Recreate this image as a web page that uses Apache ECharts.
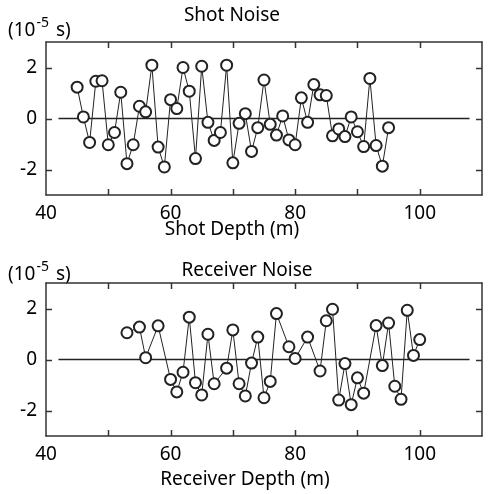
<!DOCTYPE html>
<html lang="en">
<head>
    <meta charset="UTF-8">
    <title>Shot / Receiver Noise</title>
    <script src="https://cdn.jsdelivr.net/npm/echarts@6.0.0/dist/echarts.min.js"></script>
    <style>
        html, body { margin: 0; padding: 0; background: #fff; }
        #chart { width: 490px; height: 494px; }
    </style>
</head>
<body>
<div id="chart"></div>
<script>
    // shot gather
    var shotDepth = [45, 46, 47, 48, 49, 50, 51, 52, 53, 54, 55, 56, 57, 58, 59, 60, 61, 62, 63, 64,
        65, 66, 67, 68, 69, 70, 71, 72, 73, 74, 75, 76, 77, 78, 79, 80, 81, 82, 83, 84,
        85, 86, 87, 88, 89, 90, 91, 92, 93, 94, 95];
    var shotNoise = [1.23, 0.06, -0.94, 1.46, 1.48, -1.03, -0.55, 1.03, -1.77, -1.03, 0.48, 0.26, 2.09, -1.12, -1.9, 0.74, 0.39, 2.0, 1.07, -1.57,
        2.05, -0.15, -0.86, -0.55, 2.09, -1.74, -0.19, 0.19, -1.29, -0.36, 1.51, -0.23, -0.65, 0.1, -0.84, -1.03, 0.81, -0.15, 1.33, 0.93,
        0.9, -0.68, -0.41, -0.71, 0.06, -0.52, -1.1, 1.57, -1.06, -1.87, -0.36];

    // receiver gather
    var recvDepth = [53, 55, 56, 58, 60, 61, 62, 63, 64, 65, 66, 67, 69, 70, 71, 72, 73, 74, 75, 76,
        77, 79, 80, 82, 84, 85, 86, 87, 88, 89, 90, 91, 93, 94, 95, 96, 97, 98, 99, 100];
    var recvNoise = [1.05, 1.27, 0.07, 1.32, -0.78, -1.27, -0.5, 1.66, -0.91, -1.39, 0.99, -0.95, -0.34, 1.16, -0.95, -1.43, -0.14, 0.88, -1.5, -0.86,
        1.8, 0.5, 0.04, 0.88, -0.45, 1.52, 1.97, -1.59, -0.16, -1.77, -0.72, -1.32, 1.33, -0.24, 1.43, -1.05, -1.56, 1.93, 0.16, 0.78];

    var zeroLineX = [42, 108];
    var xTicks = [50, 60, 70, 80, 90, 100];
    var xTickLabels = [40, 60, 80, 100];
    var yTickLabels = [-2, 0, 2];

    var FONT = 'Noto Sans';
    var INK = '#222';
    var FRAME = '#333';
    var TICK_LEN = 6;

    function pair(xs, ys) {
        return xs.map(function (x, i) { return [x, ys[i]]; });
    }

    function frameLine() {
        return { show: true, onZero: false, lineStyle: { color: FRAME, width: 1.5 } };
    }

    function xAxes(gi) {
        return [{
            type: 'value', gridIndex: gi, position: 'bottom',
            min: 40, max: 110, interval: 10,
            axisLine: frameLine(),
            axisTick: { show: false },
            axisLabel: { customValues: xTickLabels, color: '#000', fontSize: 19, fontFamily: FONT, margin: 9 },
            splitLine: { show: false }
        }, {
            type: 'value', gridIndex: gi, position: 'top',
            min: 40, max: 110, interval: 10,
            axisLine: frameLine(),
            axisTick: { show: false },
            axisLabel: { show: false },
            splitLine: { show: false }
        }];
    }

    function yAxes(gi) {
        return [{
            type: 'value', gridIndex: gi, position: 'left',
            min: -3, max: 3, interval: 1,
            axisLine: frameLine(),
            axisTick: { show: false },
            axisLabel: { customValues: yTickLabels, color: '#000', fontSize: 19, fontFamily: FONT, margin: 9 },
            splitLine: { show: false }
        }, {
            type: 'value', gridIndex: gi, position: 'right',
            min: -3, max: 3, interval: 1,
            axisLine: frameLine(),
            axisTick: { show: false },
            axisLabel: { show: false },
            splitLine: { show: false }
        }];
    }

    // inward tick marks on all four sides of the box, placed through the axis scale
    function tickLine(x1, y1, x2, y2) {
        return { type: 'line', shape: { x1: x1, y1: y1, x2: x2, y2: y2 }, style: { stroke: FRAME, lineWidth: 1.5 } };
    }

    function tickSeries(idx) {
        return [{
            type: 'custom', xAxisIndex: idx * 2, yAxisIndex: idx * 2,
            data: xTicks.map(function (v) { return [v, 0]; }),
            silent: true, clip: false,
            renderItem: function (params, api) {
                var cs = params.coordSys;
                var px = Math.round(api.coord([api.value(0), 0])[0]) + 0.5;
                return { type: 'group', children: [
                    tickLine(px, cs.y, px, cs.y + TICK_LEN),
                    tickLine(px, cs.y + cs.height, px, cs.y + cs.height - TICK_LEN)
                ] };
            }
        }, {
            type: 'custom', xAxisIndex: idx * 2, yAxisIndex: idx * 2,
            data: yTickLabels.map(function (v) { return [40, v]; }),
            silent: true, clip: false,
            renderItem: function (params, api) {
                var cs = params.coordSys;
                var py = Math.round(api.coord([40, api.value(1)])[1]) + 0.5;
                return { type: 'group', children: [
                    tickLine(cs.x, py, cs.x + TICK_LEN, py),
                    tickLine(cs.x + cs.width, py, cs.x + cs.width - TICK_LEN, py)
                ] };
            }
        }];
    }

    function noiseSeries(idx, data) {
        return [{
            type: 'line', xAxisIndex: idx * 2, yAxisIndex: idx * 2,
            data: pair(zeroLineX, [0, 0]),
            symbol: 'none', silent: true,
            lineStyle: { color: INK, width: 1.5 }
        }, {
            type: 'line', xAxisIndex: idx * 2, yAxisIndex: idx * 2,
            data: data,
            symbol: 'emptyCircle', symbolSize: 11,
            itemStyle: { color: INK, borderWidth: 1 },
            lineStyle: { color: INK, width: 1 }
        }].concat(tickSeries(idx));
    }

    function txt(x, y, str, size) {
        return {
            type: 'text', x: x, y: y,
            style: { text: str, fontSize: size, fontFamily: FONT, fill: '#000', align: 'center', verticalAlign: 'middle' }
        };
    }

    function unitLabel(y) {
        return {
            type: 'text', x: 8, y: y,
            style: {
                text: '{b|(10}{s|-5}{b| s)}',
                rich: {
                    b: { fontSize: 19, fontFamily: FONT, fill: '#000', verticalAlign: 'bottom', lineHeight: 24 },
                    s: { fontSize: 14, fontFamily: FONT, fill: '#000', verticalAlign: 'top', lineHeight: 24, padding: [0, 2, 0, 1] }
                },
                verticalAlign: 'middle'
            }
        };
    }

    var chart = echarts.init(document.getElementById('chart'));
    chart.setOption({
        animation: false,
        grid: [
            { left: 46, right: 8, top: 42, height: 153, show: false },
            { left: 46, right: 8, top: 283, height: 153, show: false }
        ],
        xAxis: xAxes(0).concat(xAxes(1)),
        yAxis: yAxes(0).concat(yAxes(1)),
        series: noiseSeries(0, pair(shotDepth, shotNoise)).concat(noiseSeries(1, pair(recvDepth, recvNoise))),
        graphic: [
            txt(232, 16, 'Shot Noise', 19),
            unitLabel(28),
            txt(232, 230, 'Shot Depth (m)', 19),
            txt(247, 271, 'Receiver Noise', 19),
            unitLabel(272),
            txt(245, 480, 'Receiver Depth (m)', 19)
        ]
    });
</script>
</body>
</html>
